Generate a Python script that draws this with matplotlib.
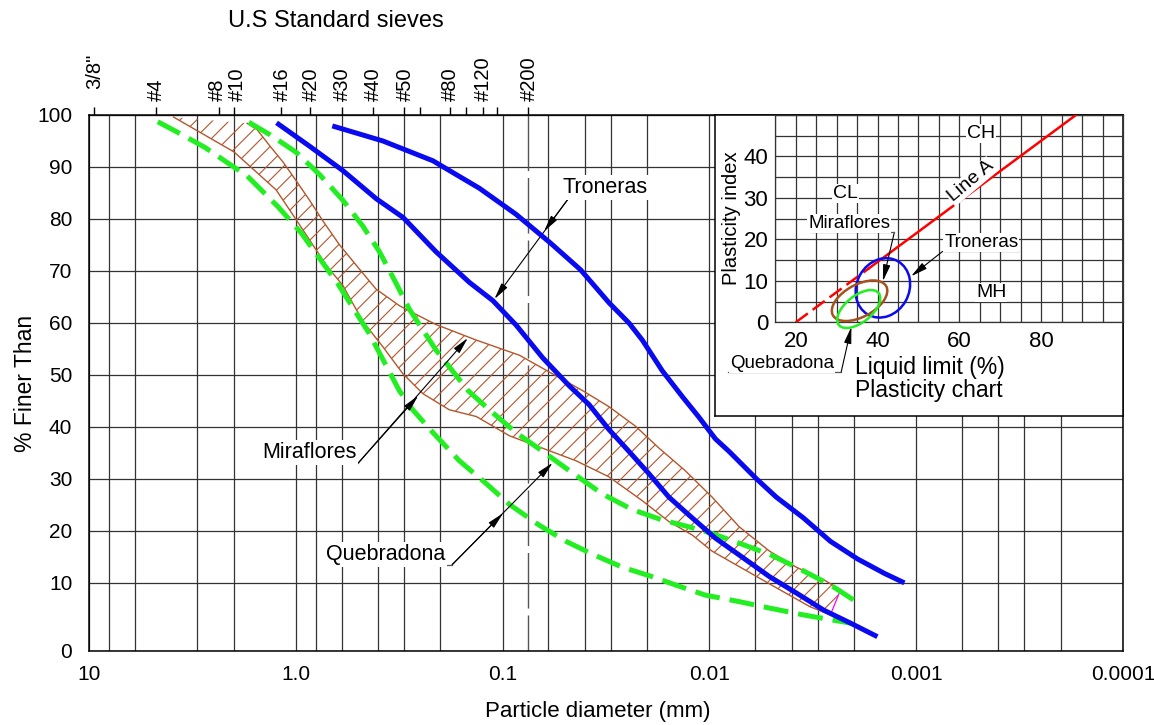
import numpy as np
import matplotlib
matplotlib.use("Agg")
import matplotlib.pyplot as plt
from matplotlib.patches import Ellipse
from matplotlib.ticker import NullLocator

plt.rcParams['font.family'] = 'Liberation Sans'
plt.rcParams['hatch.linewidth'] = 0.8

W, H = 1154, 725
BLUE = '#0a0af0'
GREEN = '#22ee22'
BROWN = '#b4562c'
GRID = '#333333'

# ---- sieve scale (top axis) ----
sieve_mm = [9.5, 4.75, 2.36, 2.0, 1.18, 0.85, 0.6, 0.425, 0.3, 0.25, 0.18, 0.15, 0.125, 0.106, 0.075]
sieve_labels = ['3/8"', '#4', '#8', '#10', '#16', '#20', '#30', '#40', '#50', '', '#80', '', '#120', '', '#200']

# vertical grid lines of the gradation chart (mm)
grid_mm = [8, 6, 3, 2, 0.8, 0.6, 0.4, 0.3, 0.2, 0.06, 0.04, 0.03, 0.02,
           0.006, 0.004, 0.003, 0.002, 0.0006, 0.0004, 0.0003, 0.0002]
decade_mm = [10, 1, 0.1, 0.01, 0.001, 0.0001]
decade_labels = ['10', '1.0', '0.1', '0.01', '0.001', '0.0001']
pct_ticks = [0, 10, 20, 30, 40, 50, 60, 70, 80, 90, 100]

# ---- gradation curves: diameter (mm) / % finer ----
tron_fine_d = [0.666, 0.379, 0.2174, 0.1294, 0.0861, 0.0584, 0.0419, 0.0306, 0.0245, 0.0211, 0.0169,
               0.0135, 0.0113, 0.00935, 0.00804, 0.00595, 0.00475, 0.00351, 0.0026, 0.00192, 0.00142, 0.00114]
tron_fine_p = [97.9, 95.0, 91.2, 85.9, 80.9, 75.3, 70.2, 63.9, 60.0, 56.7, 50.8,
               45.8, 42.0, 37.7, 35.3, 30.1, 26.5, 22.5, 18.0, 14.6, 11.8, 10.0]

tron_coarse_d = [1.239, 0.858, 0.592, 0.4085, 0.303, 0.210, 0.1447, 0.1115, 0.0861, 0.064, 0.0476, 0.0382,
                 0.0306, 0.0245, 0.0196, 0.0157, 0.0126, 0.00935, 0.00691, 0.00512, 0.00379, 0.0028, 0.00208, 0.00154]
tron_coarse_p = [98.5, 94.0, 89.3, 83.9, 80.3, 73.7, 67.8, 64.3, 59.6, 53.3, 47.9, 44.3,
                 39.5, 35.3, 31.0, 26.5, 23.1, 18.6, 14.9, 11.2, 8.5, 6.0, 4.1, 2.1]

queb_coarse_d = [4.65, 3.70, 2.76, 2.03, 1.72, 1.215, 0.941, 0.625, 0.442, 0.316, 0.272, 0.217, 0.162, 0.120,
                 0.0927, 0.0665, 0.0494, 0.0367, 0.0263, 0.0189, 0.0146, 0.01045, 0.00718, 0.00512, 0.00351,
                 0.0026, 0.00208]
queb_coarse_p = [98.7, 96.6, 93.8, 90.2, 88.3, 82.3, 77.3, 67.5, 58.0, 47.0, 43.3, 38.9, 33.5, 29.1,
                 25.1, 21.1, 18.0, 15.5, 13.0, 11.2, 9.7, 8.2, 7.25, 6.3, 5.3, 4.6, 4.1]

queb_fine_d = [1.687, 1.332, 0.994, 0.770, 0.592, 0.4735, 0.394, 0.333, 0.282, 0.210, 0.147, 0.116, 0.0861,
               0.064, 0.0476, 0.0329, 0.0236, 0.0169, 0.0126, 0.0097, 0.00691, 0.00512, 0.00379, 0.0026, 0.00185]
queb_fine_p = [98.6, 96.2, 92.8, 88.6, 83.6, 78.6, 73.7, 68.2, 62.6, 54.8, 47.0, 43.3, 38.9,
               35.3, 31.6, 27.1, 24.1, 22.1, 20.8, 19.5, 17.4, 15.5, 13.0, 9.7, 6.8]

# Miraflores envelope (hatched band)
mira_lo_d = [3.90, 1.99, 1.245, 1.013, 0.712, 0.592, 0.474, 0.379, 0.303, 0.243, 0.181, 0.134, 0.0927,
             0.064, 0.0442, 0.0306, 0.0211, 0.0157, 0.0121, 0.0097, 0.00666, 0.00457, 0.00326, 0.0026]
mira_lo_p = [99.6, 92.9, 85.6, 80.3, 71.1, 67.2, 60.3, 55.4, 50.2, 46.4, 43.3, 42.0, 38.3,
             35.9, 33.5, 30.4, 25.8, 21.8, 19.2, 16.1, 12.4, 9.0, 6.5, 5.3]
mira_hi_d = [1.719, 1.540, 1.332, 1.150, 0.994, 0.858, 0.739, 0.614, 0.510, 0.409, 0.315, 0.252, 0.210,
             0.134, 0.083, 0.0573, 0.0411, 0.0306, 0.0227, 0.0175, 0.0131, 0.0097, 0.00718, 0.00512,
             0.00379, 0.0028, 0.00232]
mira_hi_p = [98.4, 97.2, 94.0, 90.9, 87.3, 83.6, 79.6, 75.0, 71.1, 66.5, 63.3, 61.3, 59.7,
             56.7, 53.8, 50.2, 47.0, 43.9, 40.1, 35.9, 31.6, 26.5, 20.8, 16.1,
             13.0, 10.6, 9.0]

# callouts on the gradation chart: text anchor, underline, arrow tips
tron_txt = (0.0513, 84.1)
tron_line = ([0.0477, 0.0202], [84.1, 84.1])
tron_tips = [(0.0631, 77.6), (0.1095, 64.6)]
mira_txt = (1.459, 33.0)
mira_line = ([1.431, 0.5006], [33.0, 33.0])
mira_tips = [(0.256, 46.0), (0.1473, 57.1)]
queb_txt = (0.718, 13.5)
queb_line = ([0.699, 0.1754], [13.5, 13.5])
queb_tips = [(0.0994, 23.4), (0.0573, 33.1)]

# ---- plasticity chart (inset) ----
ll_major = [20, 40, 60, 80]
pi_major = [0, 10, 20, 30, 40]
ll_grid = list(range(15, 101, 5))
pi_grid = list(range(0, 51, 5))
lineA_dash_ll, lineA_dash_pi = [20, 38], [0, 13.1]
lineA_ll, lineA_pi = [38, 90], [13.1, 51.1]
# ellipses: centre LL, centre PI, width, height, angle
ell_tron = (41.3, 8.3, 14.8, 12.8, 60)
ell_mira = (35.6, 5.2, 14.8, 7.8, 28)
ell_queb = (35.4, 3.2, 12.4, 6.4, 38)


def stretch(y):
    # the 0-10 band is drawn taller than the other decades
    y = np.asarray(y, dtype=float)
    return np.where(y >= 10, y, 10 - (10 - y) * 1.31)


def unstretch(t):
    t = np.asarray(t, dtype=float)
    return np.where(t >= 10, t, 10 - (10 - t) / 1.31)


def leader(axis, start, tips):
    for tip in tips:
        axis.annotate('', xy=tip, xytext=start, annotation_clip=False,
                      arrowprops=dict(arrowstyle='-|>,head_length=1.0,head_width=0.22',
                                      color='k', lw=0.8, shrinkA=0, shrinkB=0))


fig = plt.figure(figsize=(W / 100, H / 100), dpi=100)
ax = fig.add_axes([89 / W, 1 - 651 / H, (1123 - 89) / W, (651 - 115) / H])
ax.set_xscale('log')
ax.set_xlim(10, 1e-4)
ax.set_yscale('function', functions=(stretch, unstretch))
ax.set_ylim(0, 100)

ax.set_xticks(decade_mm, labels=decade_labels)
ax.set_xticks(grid_mm, minor=True)
ax.set_yticks(pct_ticks)
ax.yaxis.set_minor_locator(NullLocator())
ax.tick_params(which='both', length=0, labelsize=15)
ax.tick_params(axis='x', pad=10)
ax.tick_params(axis='y', pad=12)
ax.grid(which='both', axis='x', color=GRID, lw=0.9)
ax.grid(which='major', axis='y', color=GRID, lw=0.9)
ax.set_axisbelow(True)
for sp in ax.spines.values():
    sp.set_linewidth(1.1)

ax.set_xlabel('Particle diameter (mm)', fontsize=16)
ax.xaxis.set_label_coords(0.492, -0.094)
ax.set_ylabel('% Finer Than', fontsize=16.5)
ax.yaxis.set_label_coords(-0.05, 0.5)

# #200 sieve reference line
ax.plot([0.075, 0.075], [100, 0], color='#555555', lw=1.0, dashes=(40, 5), zorder=1)

# sieve axis along the top
top = ax.secondary_xaxis('top')
top.set_xticks(sieve_mm)
top.set_xticklabels([])
top.xaxis.set_minor_locator(NullLocator())
top.tick_params(direction='out', length=6, width=1)
nudge = {'#8': -2, '#10': 3}
for mm, name in zip(sieve_mm, sieve_labels):
    if not name:
        continue
    off = 26 if name == '3/8"' else 14
    ax.annotate(name, xy=(mm, 1), xycoords=ax.get_xaxis_transform(),
                xytext=(1 + nudge.get(name, 0), off), textcoords='offset pixels',
                rotation=90, ha='center', va='bottom', fontsize=14.5)
fig.text(336 / W, 1 - 21 / H, 'U.S Standard sieves', ha='center', va='center', fontsize=17)

# Miraflores hatched band
ax.fill(mira_lo_d + mira_hi_d[::-1], mira_lo_p + mira_hi_p[::-1],
        facecolor='none', edgecolor=BROWN, hatch='//', lw=0, zorder=2)
ax.plot(mira_lo_d, mira_lo_p, color=BROWN, lw=1.0, zorder=2)
ax.plot(mira_hi_d, mira_hi_p, color=BROWN, lw=1.0, zorder=2)
ax.plot([mira_hi_d[-1], mira_lo_d[-1]], [mira_hi_p[-1], mira_lo_p[-1]], color='magenta', lw=0.9, zorder=2)

# Quebradona envelope
for d, p in [(queb_coarse_d, queb_coarse_p), (queb_fine_d, queb_fine_p)]:
    ax.plot(d, p, color=GREEN, lw=3.6, dashes=(5, 2), dash_capstyle='butt', zorder=3)

# Troneras envelope
for d, p in [(tron_coarse_d, tron_coarse_p), (tron_fine_d, tron_fine_p)]:
    ax.plot(d, p, color=BLUE, lw=3.6, solid_capstyle='butt', zorder=4)

box = dict(boxstyle='square,pad=0.1', fc='white', ec='none')
callouts = [('Troneras', tron_txt, tron_line, tron_tips, 0),
            ('Miraflores', mira_txt, mira_line, mira_tips, 1),
            ('Quebradona', queb_txt, queb_line, queb_tips, 1)]
for txt, (tx, ty), line, tips, end in callouts:
    ax.plot(line[0], line[1], color='#555555', lw=0.9, zorder=5)
    leader(ax, (line[0][end], line[1][end]), tips)
    ax.text(tx, ty, txt, fontsize=15.5, ha='left', va='bottom', bbox=box, zorder=6)

# ---- plasticity chart inset ----
frame = fig.add_axes([715 / W, 1 - 416 / H, 408 / W, 301 / H])
frame.set_xticks([])
frame.set_yticks([])
for sp in frame.spines.values():
    sp.set_linewidth(1.1)

ins = fig.add_axes([775.3 / W, 1 - 322.3 / H, 347.7 / W, 207.3 / H])
ins.set_facecolor('none')
ins.set_xlim(15, 100)
ins.set_ylim(0, 50)
ins.set_xticks(ll_major)
ins.set_xticks(ll_grid, minor=True)
ins.set_yticks(pi_major)
ins.set_yticks(pi_grid, minor=True)
ins.grid(which='both', color=GRID, lw=0.9)
ins.tick_params(which='both', length=0, labelsize=16)
ins.tick_params(axis='x', pad=6)
ins.tick_params(axis='y', pad=5)
for sp in ins.spines.values():
    sp.set_color(GRID)
    sp.set_linewidth(0.9)
ins.set_ylabel('Plasticity index', fontsize=14.5)
ins.yaxis.set_label_coords(-0.100, 0.5)
ins.text(0.23, -0.22, 'Liquid limit (%)', transform=ins.transAxes, fontsize=16.5, va='center', ha='left')
ins.text(0.23, -0.33, 'Plasticity chart', transform=ins.transAxes, fontsize=16.5, va='center', ha='left')

ins.plot(lineA_dash_ll, lineA_dash_pi, color='red', lw=1.8, dashes=(6, 2.4), zorder=3)
ins.plot(lineA_ll, lineA_pi, color='red', lw=1.8, zorder=3)

for (cx, cy, w, h, ang), col in [(ell_tron, BLUE), (ell_mira, '#a5521f'), (ell_queb, GREEN)]:
    ins.add_patch(Ellipse((cx, cy), w, h, angle=ang, fill=False, ec=col, lw=1.8, clip_on=False, zorder=4))

ibox = dict(boxstyle='square,pad=0.05', fc='white', ec='none')
ins.text(65.3, 45.5, 'CH', fontsize=14, ha='center', va='center', bbox=ibox, zorder=5)
ins.text(32.1, 31.1, 'CL', fontsize=14, ha='center', va='center', bbox=ibox, zorder=5)
ins.text(67.8, 7.1, 'MH', fontsize=14, ha='center', va='center', bbox=ibox, zorder=5)
ins.text(62.8, 34.0, 'Line A', fontsize=14, ha='center', va='center', rotation=40, bbox=ibox, zorder=5)

ins.plot([23.4, 44.1], [21.7, 21.7], color='#555555', lw=0.9, zorder=5)
ins.text(23.0, 21.7, 'Miraflores', fontsize=13.5, ha='left', va='bottom', bbox=ibox, zorder=6)
leader(ins, (44.1, 21.7), [(41.3, 9.9)])
ins.plot([55.9, 74.3], [17.1, 17.1], color='#555555', lw=0.9, zorder=5)
ins.text(56.3, 17.1, 'Troneras', fontsize=13.5, ha='left', va='bottom', bbox=ibox, zorder=6)
leader(ins, (55.9, 17.1), [(48.2, 11.1)])
ins.plot([3.5, 31.1], [-12, -12], color='#555555', lw=0.9, zorder=5, clip_on=False)
ins.text(3.9, -12, 'Quebradona', fontsize=13.5, ha='left', va='bottom', bbox=ibox, zorder=6)
leader(ins, (31.1, -12), [(33.6, -1.1)])

fig.savefig('out.png', dpi=100)
